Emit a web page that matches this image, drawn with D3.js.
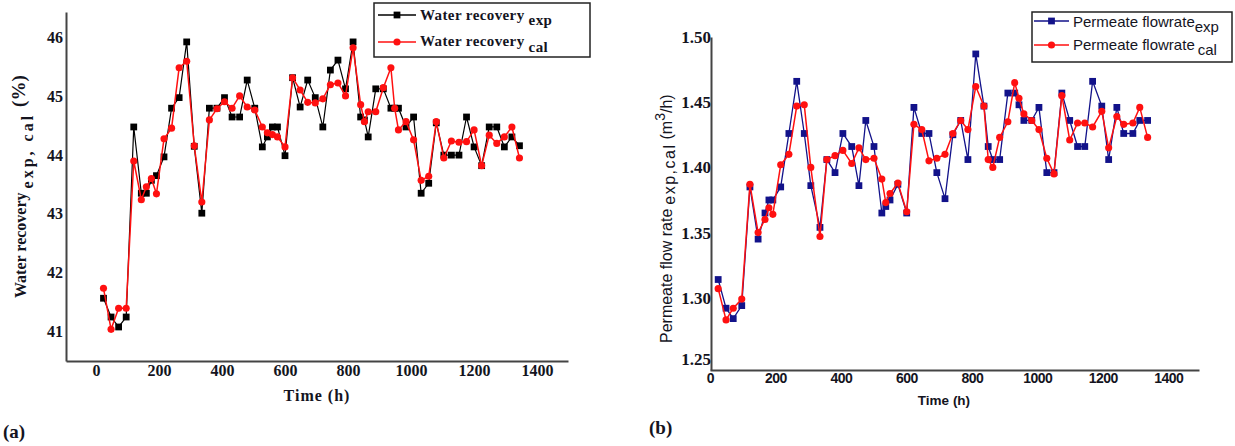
<!DOCTYPE html>
<html>
<head>
<meta charset="utf-8">
<script src="https://cdn.jsdelivr.net/npm/d3@7"></script>
<style>
  body { margin: 0; background: #fff; }
  .serif { font-family: "Liberation Serif", "DejaVu Serif", serif; font-weight: bold; fill: #14141e; }
  .sans { font-family: "Liberation Sans", Arial, sans-serif; fill: #14141e; }
</style>
</head>
<body>
<div id="chart"></div>
<script>
// ---- data ----
var timeA = [24,48,72,96,120,144,160,176,192,216,240,264,288,312,336,360,384,408,432,456,
             480,504,528,544,560,576,600,624,648,672,696,720,744,768,792,816,840,852,864,888,
             912,936,948,960,984,1008,1032,1056,1080,1104,1128,1152,1176,1200,1224,1248,1272,1296,1320,1344];
var recoveryExp = [41.56,41.24,41.07,41.24,44.48,43.35,43.35,43.57,43.65,43.97,44.80,44.98,45.93,44.15,43.01,44.80,44.80,44.98,44.65,44.65,
                   45.28,44.80,44.14,44.31,44.48,44.48,43.99,45.32,44.82,45.28,44.98,44.48,45.45,45.62,45.13,45.93,44.65,44.60,44.31,45.13,
                   45.13,44.80,44.80,44.80,44.48,44.65,43.35,43.52,44.55,44.00,44.00,44.00,44.65,44.14,43.82,44.48,44.48,44.14,44.31,44.16];
var recoveryCal = [41.73,41.03,41.39,41.39,43.90,43.24,43.46,43.60,43.34,44.28,44.46,45.49,45.60,44.16,43.20,44.60,44.79,44.91,44.80,45.01,
                   44.82,44.77,44.48,44.38,44.35,44.31,44.14,45.32,45.11,44.90,44.89,44.96,45.20,45.23,45.01,45.83,44.86,44.57,44.74,44.74,
                   45.15,45.49,44.80,44.43,44.57,44.26,43.57,43.64,44.57,43.95,44.24,44.22,44.23,44.43,43.82,44.34,44.20,44.31,44.48,43.95];

var timeB = [25,49,71,97,122,147,168,180,192,216,241,265,288,308,336,357,382,406,433,455,
             476,501,525,537,550,574,601,623,647,669,693,718,742,766,788,812,837,850,864,885,
             910,931,944,959,983,1005,1029,1051,1075,1099,1123,1145,1169,1197,1218,1243,1264,1292,1313,1337];
var flowExp = [1.314,1.292,1.284,1.294,1.385,1.345,1.365,1.375,1.375,1.385,1.426,1.466,1.426,1.386,1.354,1.406,1.396,1.426,1.416,1.386,
               1.436,1.416,1.365,1.370,1.375,1.387,1.365,1.446,1.426,1.426,1.396,1.376,1.425,1.436,1.406,1.487,1.447,1.416,1.406,1.406,
               1.457,1.457,1.448,1.436,1.436,1.446,1.396,1.396,1.457,1.436,1.416,1.416,1.466,1.447,1.406,1.446,1.426,1.426,1.436,1.436];
var flowCal = [1.307,1.283,1.292,1.299,1.387,1.350,1.360,1.369,1.364,1.402,1.410,1.447,1.448,1.400,1.347,1.406,1.409,1.413,1.403,1.415,
               1.406,1.407,1.391,1.373,1.380,1.388,1.366,1.433,1.429,1.405,1.407,1.410,1.426,1.436,1.429,1.462,1.447,1.406,1.400,1.423,
               1.435,1.465,1.453,1.441,1.436,1.429,1.407,1.395,1.455,1.421,1.434,1.434,1.431,1.443,1.415,1.439,1.433,1.434,1.446,1.423];

var timeTicks = [0,200,400,600,800,1000,1200,1400];
var recoveryTicks = [41,42,43,44,45,46];
var flowTicks = [1.25,1.30,1.35,1.40,1.45,1.50];

var svg = d3.select("#chart").append("svg")
            .attr("width", 1235)
            .attr("height", 446);

function drawSeries(g, x, y, times, vals, color, shape, lw) {
  var line = d3.line()
               .x(function(d, i) { return x(times[i]); })
               .y(function(d) { return y(d); });
  g.append("path")
   .datum(vals)
   .attr("d", line)
   .attr("fill", "none")
   .attr("stroke", color)
   .attr("stroke-width", lw);
  var sym = d3.symbol().type(shape).size(shape === d3.symbolSquare ? 46 : 40);
  g.selectAll(null)
   .data(vals)
   .enter().append("path")
   .attr("d", sym)
   .attr("transform", function(d, i) { return "translate(" + x(times[i]) + "," + y(d) + ")"; })
   .attr("fill", color);
}

function legendEntry(g, x0, x1, y0, color, shape) {
  g.append("line")
   .attr("x1", x0).attr("x2", x1).attr("y1", y0).attr("y2", y0)
   .attr("stroke", color).attr("stroke-width", 1.5);
  var sym = d3.symbol().type(shape).size(shape === d3.symbolSquare ? 46 : 40);
  g.append("path")
   .attr("d", sym)
   .attr("transform", "translate(" + ((x0 + x1) / 2) + "," + y0 + ")")
   .attr("fill", color);
}

// ================= (a) water recovery =================
var xA = d3.scaleLinear().domain([-95, 1498]).range([66, 568]);
var yA = d3.scaleLinear().domain([40.49, 46.44]).range([361, 12]);

var gA = svg.append("g");

var axA = gA.append("g")
  .attr("transform", "translate(0,361)")
  .call(d3.axisBottom(xA).tickValues(timeTicks).tickFormat(d3.format("d")).tickSize(0).tickPadding(4));
var ayA = gA.append("g")
  .attr("transform", "translate(66,0)")
  .call(d3.axisLeft(yA).tickValues(recoveryTicks).tickFormat(d3.format("d")).tickSize(0).tickPadding(3));
[axA, ayA].forEach(function(a) {
  a.select(".domain").attr("stroke", "#444").attr("stroke-width", 2);
  a.selectAll("text").attr("class", "serif").style("font-size", "16px");
});

drawSeries(gA, xA, yA, timeA, recoveryExp, "#000", d3.symbolSquare, 1.2);
drawSeries(gA, xA, yA, timeA, recoveryCal, "#ff1010", d3.symbolCircle, 1.5);

gA.append("text")
  .attr("class", "serif")
  .attr("x", 317).attr("y", 401)
  .attr("text-anchor", "middle")
  .style("font-size", "16px")
  .style("letter-spacing", "1px")
  .text("Time (h)");

var ytA = gA.append("text")
  .attr("class", "serif")
  .attr("transform", "translate(26,298) rotate(-90)")
  .style("font-size", "16px");
ytA.append("tspan").text("Water recovery");
ytA.append("tspan").attr("dx", 4).attr("dy", 7).style("letter-spacing", "3px").text("exp, cal");
ytA.append("tspan").attr("dx", 6).attr("dy", -8).style("font-size", "19px").text("(%)");

gA.append("text")
  .attr("class", "serif")
  .attr("x", 3).attr("y", 438)
  .style("font-size", "19px")
  .text("(a)");

var legA = gA.append("g");
legA.append("rect")
  .attr("x", 374).attr("y", 3).attr("width", 216).attr("height", 54)
  .attr("fill", "#fff").attr("stroke", "#222").attr("stroke-width", 1.5);
legendEntry(legA, 378, 416, 15, "#000", d3.symbolSquare);
legendEntry(legA, 378, 416, 42, "#ff1010", d3.symbolCircle);
var lt1 = legA.append("text").attr("class", "serif").attr("x", 420).attr("y", 20).style("font-size", "15px").style("letter-spacing", "0.4px");
lt1.append("tspan").text("Water recovery");
lt1.append("tspan").attr("dx", 4).attr("dy", 5).text("exp");
var lt2 = legA.append("text").attr("class", "serif").attr("x", 420).attr("y", 46).style("font-size", "15px").style("letter-spacing", "0.4px");
lt2.append("tspan").text("Water recovery");
lt2.append("tspan").attr("dx", 4).attr("dy", 6).text("cal");

// ================= (b) permeate flow rate =================
var xB = d3.scaleLinear().domain([0, 1494]).range([710, 1199]);
var yB = d3.scaleLinear().domain([1.2446, 1.50]).range([370, 37]);

var gB = svg.append("g");

var axB = gB.append("g")
  .attr("transform", "translate(0,370)")
  .call(d3.axisBottom(xB).tickValues(timeTicks).tickFormat(d3.format("d")).tickSize(0).tickPadding(3));
axB.selectAll("text").attr("class", "sans").style("font-size", "14px").style("font-weight", "bold").style("letter-spacing", "-0.5px");
var ayB = gB.append("g")
  .attr("transform", "translate(711,0)")
  .call(d3.axisLeft(yB).tickValues(flowTicks).tickFormat(d3.format(".2f")).tickSize(0).tickPadding(0));
ayB.selectAll("text").attr("class", "serif").style("font-size", "17px");
ayB.selectAll(".tick text").attr("dy", function(d) { return d === 1.25 ? "0.1em" : "0.32em"; });
[axB, ayB].forEach(function(a) {
  a.select(".domain").attr("stroke", "#444").attr("stroke-width", 2);
});

drawSeries(gB, xB, yB, timeB, flowExp, "#12128a", d3.symbolSquare, 1.3);
drawSeries(gB, xB, yB, timeB, flowCal, "#ff1010", d3.symbolCircle, 1.5);

gB.append("text")
  .attr("class", "sans")
  .attr("x", 944).attr("y", 405)
  .attr("text-anchor", "middle")
  .style("font-size", "13.5px")
  .style("font-weight", "bold")
  .text("Time (h)");

var ytB = gB.append("text")
  .attr("class", "sans")
  .attr("transform", "translate(672,343) rotate(-90)")
  .style("font-size", "16px");
ytB.append("tspan").text("Permeate flow rate");
ytB.append("tspan").attr("dx", 4).attr("dy", 3).style("letter-spacing", "1.5px").text("exp,cal");
ytB.append("tspan").attr("dx", 4).attr("dy", -3).text("(m");
ytB.append("tspan").attr("dy", -7).style("font-size", "14px").text("3");
ytB.append("tspan").attr("dy", 7).text("/h)");

gB.append("text")
  .attr("class", "serif")
  .attr("x", 649).attr("y", 434)
  .style("font-size", "19px")
  .text("(b)");

var legB = gB.append("g");
legB.append("rect")
  .attr("x", 1032).attr("y", 12).attr("width", 200).attr("height", 50)
  .attr("fill", "#fff").attr("stroke", "#222").attr("stroke-width", 1.5);
legendEntry(legB, 1034, 1069, 21, "#12128a", d3.symbolSquare);
legendEntry(legB, 1034, 1069, 45, "#ff1010", d3.symbolCircle);
var lt3 = legB.append("text").attr("class", "sans").attr("x", 1073).attr("y", 27).style("font-size", "15px");
lt3.append("tspan").text("Permeate flowrate");
lt3.append("tspan").attr("dy", 5).text("exp");
var lt4 = legB.append("text").attr("class", "sans").attr("x", 1073).attr("y", 50).style("font-size", "15px");
lt4.append("tspan").text("Permeate flowrate");
lt4.append("tspan").attr("dx", 3).attr("dy", 5).text("cal");
</script>
</body>
</html>
